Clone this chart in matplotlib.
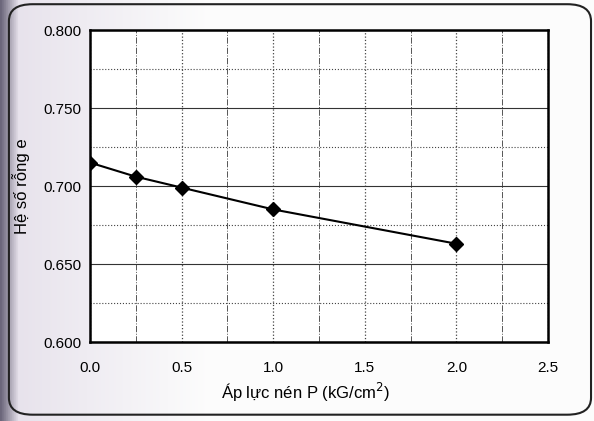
import numpy as np
import matplotlib
matplotlib.use('Agg')
import matplotlib.pyplot as plt
from matplotlib.patches import FancyBboxPatch

plt.rcParams['font.family'] = ['Liberation Sans', 'DejaVu Sans']

# e - P compression curve data
pressure = [0.0, 0.25, 0.5, 1.0, 2.0]
void_ratio = [0.715, 0.706, 0.699, 0.685, 0.663]

x_ticks = [0.0, 0.5, 1.0, 1.5, 2.0, 2.5]
y_ticks = [0.600, 0.650, 0.700, 0.750, 0.800]


def create_chart():
    fig = plt.figure(figsize=(5.94, 4.21), dpi=100)
    fig.patch.set_facecolor('white')

    # scanned-page look: shaded left edge fading to white
    bg = fig.add_axes([0, 0, 1, 1], zorder=-10)
    grad = np.linspace(0, 1, 300)
    shade = np.clip(grad / 0.35, 0, 1)
    col = np.ones((1, 300, 3))
    dark = np.array([0.42, 0.40, 0.48])
    mid = np.array([0.90, 0.88, 0.92])
    for i in range(300):
        if grad[i] < 0.03:
            col[0, i] = dark + (mid - dark) * (grad[i] / 0.03)
        else:
            col[0, i] = mid + (np.array([0.99, 0.99, 0.99]) - mid) * shade[i]
    bg.imshow(col, aspect='auto', extent=[0, 1, 0, 1])
    bg.set_xlim(0, 1)
    bg.set_ylim(0, 1)
    bg.axis('off')
    frame = FancyBboxPatch((0.015, 0.015), 0.98, 0.975,
                           boxstyle='round,pad=0,rounding_size=0.04',
                           transform=fig.transFigure, fill=False,
                           edgecolor='#222222', linewidth=1.5)
    fig.patches.append(frame)

    ax = fig.add_axes([0.1515, 0.1876, 0.7711, 0.7411])
    ax.set_facecolor('white')
    ax.plot(pressure, void_ratio, color='black', linewidth=1.5,
            marker='D', markersize=7, markerfacecolor='black', zorder=5)

    ax.set_xlim(0, 2.5)
    ax.set_ylim(0.600, 0.800)
    ax.set_xticks(x_ticks)
    ax.set_xticklabels(['%.1f' % v for v in x_ticks])
    ax.set_yticks(y_ticks)
    ax.set_yticklabels(['%.3f' % v for v in y_ticks])
    ax.set_xticks(np.arange(0.25, 2.5, 0.5), minor=True)
    ax.set_yticks(np.arange(0.625, 0.8, 0.05), minor=True)
    ax.tick_params(which='both', length=0, labelsize=11, pad=14)
    ax.tick_params(axis='y', pad=6)

    ax.grid(axis='y', which='major', color='#333333', linewidth=0.8)
    ax.grid(axis='y', which='minor', color='#444444', linewidth=0.8, linestyle=':')
    ax.grid(axis='x', which='major', color='#444444', linewidth=0.9, linestyle=':')
    ax.grid(axis='x', which='minor', color='#555555', linewidth=0.7, linestyle='-.')
    ax.set_axisbelow(True)

    for s in ax.spines.values():
        s.set_linewidth(1.8)
        s.set_color('black')

    ax.set_xlabel('Áp lực nén P (kG/cm$^2$)', fontsize=12, labelpad=0)
    ax.xaxis.set_label_coords(0.47, -0.125)
    ax.set_ylabel('Hệ số rỗng e', fontsize=12)
    ax.yaxis.set_label_coords(-0.13, 0.5)

    plt.savefig('out.png', dpi=100)
    plt.close()


if __name__ == "__main__":
    create_chart()
